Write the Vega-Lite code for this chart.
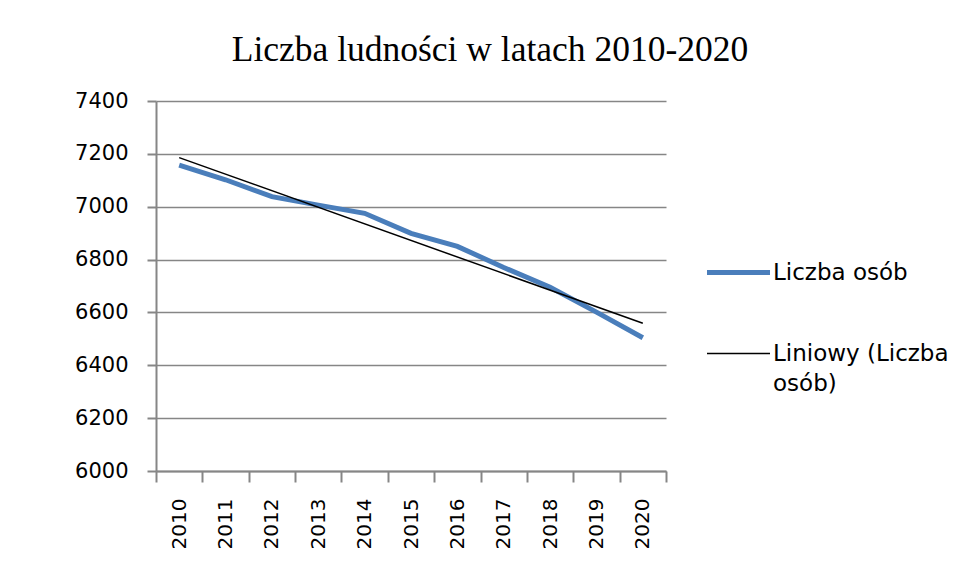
{
  "$schema": "https://vega.github.io/schema/vega-lite/v6.json",
  "width": 510,
  "height": 370,
  "autosize": {"type": "none"},
  "padding": {"left": 156, "top": 101, "right": 308, "bottom": 110},
  "background": "white",
  "title": {
    "text": "Liczba ludności w latach 2010-2020",
    "font": "Liberation Serif",
    "fontSize": 35.5,
    "fontWeight": "normal",
    "color": "#000000",
    "anchor": "middle",
    "dx": 79,
    "offset": 22
  },
  "config": {
    "view": {"stroke": null},
    "axis": {"labelFont": "DejaVu Sans", "labelColor": "#000000"},
    "legend": {"labelFont": "DejaVu Sans"}
  },
  "data": {
    "values": [
      {"year": 2010, "pop": 7157},
      {"year": 2011, "pop": 7102},
      {"year": 2012, "pop": 7038},
      {"year": 2013, "pop": 7006},
      {"year": 2014, "pop": 6975},
      {"year": 2015, "pop": 6899},
      {"year": 2016, "pop": 6850},
      {"year": 2017, "pop": 6770},
      {"year": 2018, "pop": 6695},
      {"year": 2019, "pop": 6601},
      {"year": 2020, "pop": 6504}
    ]
  },
  "encoding": {
    "x": {
      "field": "year",
      "type": "ordinal",
      "bandPosition": 0.5,
      "scale": {"type": "band", "paddingInner": 0, "paddingOuter": 0},
      "axis": {
        "title": null,
        "labelAngle": -90,
        "labelAlign": "right",
        "labelBaseline": "middle",
        "labelFontSize": 20,
        "labelPadding": 16,
        "tickBand": "extent",
        "tickSize": 11,
        "tickColor": "#868686",
        "tickWidth": 2,
        "domainColor": "#868686",
        "domainWidth": 2,
        "grid": false
      }
    }
  },
  "layer": [
    {
      "mark": {"type": "line", "strokeWidth": 5},
      "encoding": {
        "y": {
          "field": "pop",
          "type": "quantitative",
          "scale": {"domain": [6000, 7400], "nice": false, "zero": false},
          "axis": {
            "title": null,
            "format": "d",
            "values": [6000, 6200, 6400, 6600, 6800, 7000, 7200, 7400],
            "labelFontSize": 21,
            "labelPadding": 19,
            "tickSize": 9,
            "tickColor": "#868686",
            "tickWidth": 2,
            "domainColor": "#868686",
            "domainWidth": 2,
            "grid": true,
            "gridColor": "#868686",
            "gridWidth": 1.5,
            "gridOpacity": 1
          }
        },
        "color": {
          "datum": "Liczba osób",
          "scale": {
            "domain": ["Liczba osób", "Liniowy (Liczba osób)"],
            "range": ["#4A7EBB", "#000000"]
          },
          "legend": {
            "title": null,
            "orient": "none",
            "legendX": 571,
            "legendY": 160,
            "symbolType": "stroke",
            "symbolSize": 3969,
            "symbolStrokeWidth": 5,
            "labelFontSize": 23,
            "labelColor": "#000000",
            "labelOffset": 23,
            "labelLimit": 0,
            "rowPadding": 57,
            "labelExpr": "datum.label == 'Liczba osób' ? datum.label : ['Liniowy (Liczba', 'osób)']",
            "encode": {
              "symbols": {
                "update": {
                  "strokeWidth": {"signal": "datum.value == 'Liczba osób' ? 5 : 1.5"}
                }
              },
              "labels": {
                "update": {"lineHeight": {"value": 30}}
              }
            }
          }
        }
      }
    },
    {
      "transform": [{"regression": "pop", "on": "year", "method": "linear"}],
      "mark": {"type": "line", "strokeWidth": 1.5},
      "encoding": {
        "y": {"field": "pop", "type": "quantitative"},
        "color": {"datum": "Liniowy (Liczba osób)"}
      }
    }
  ]
}
